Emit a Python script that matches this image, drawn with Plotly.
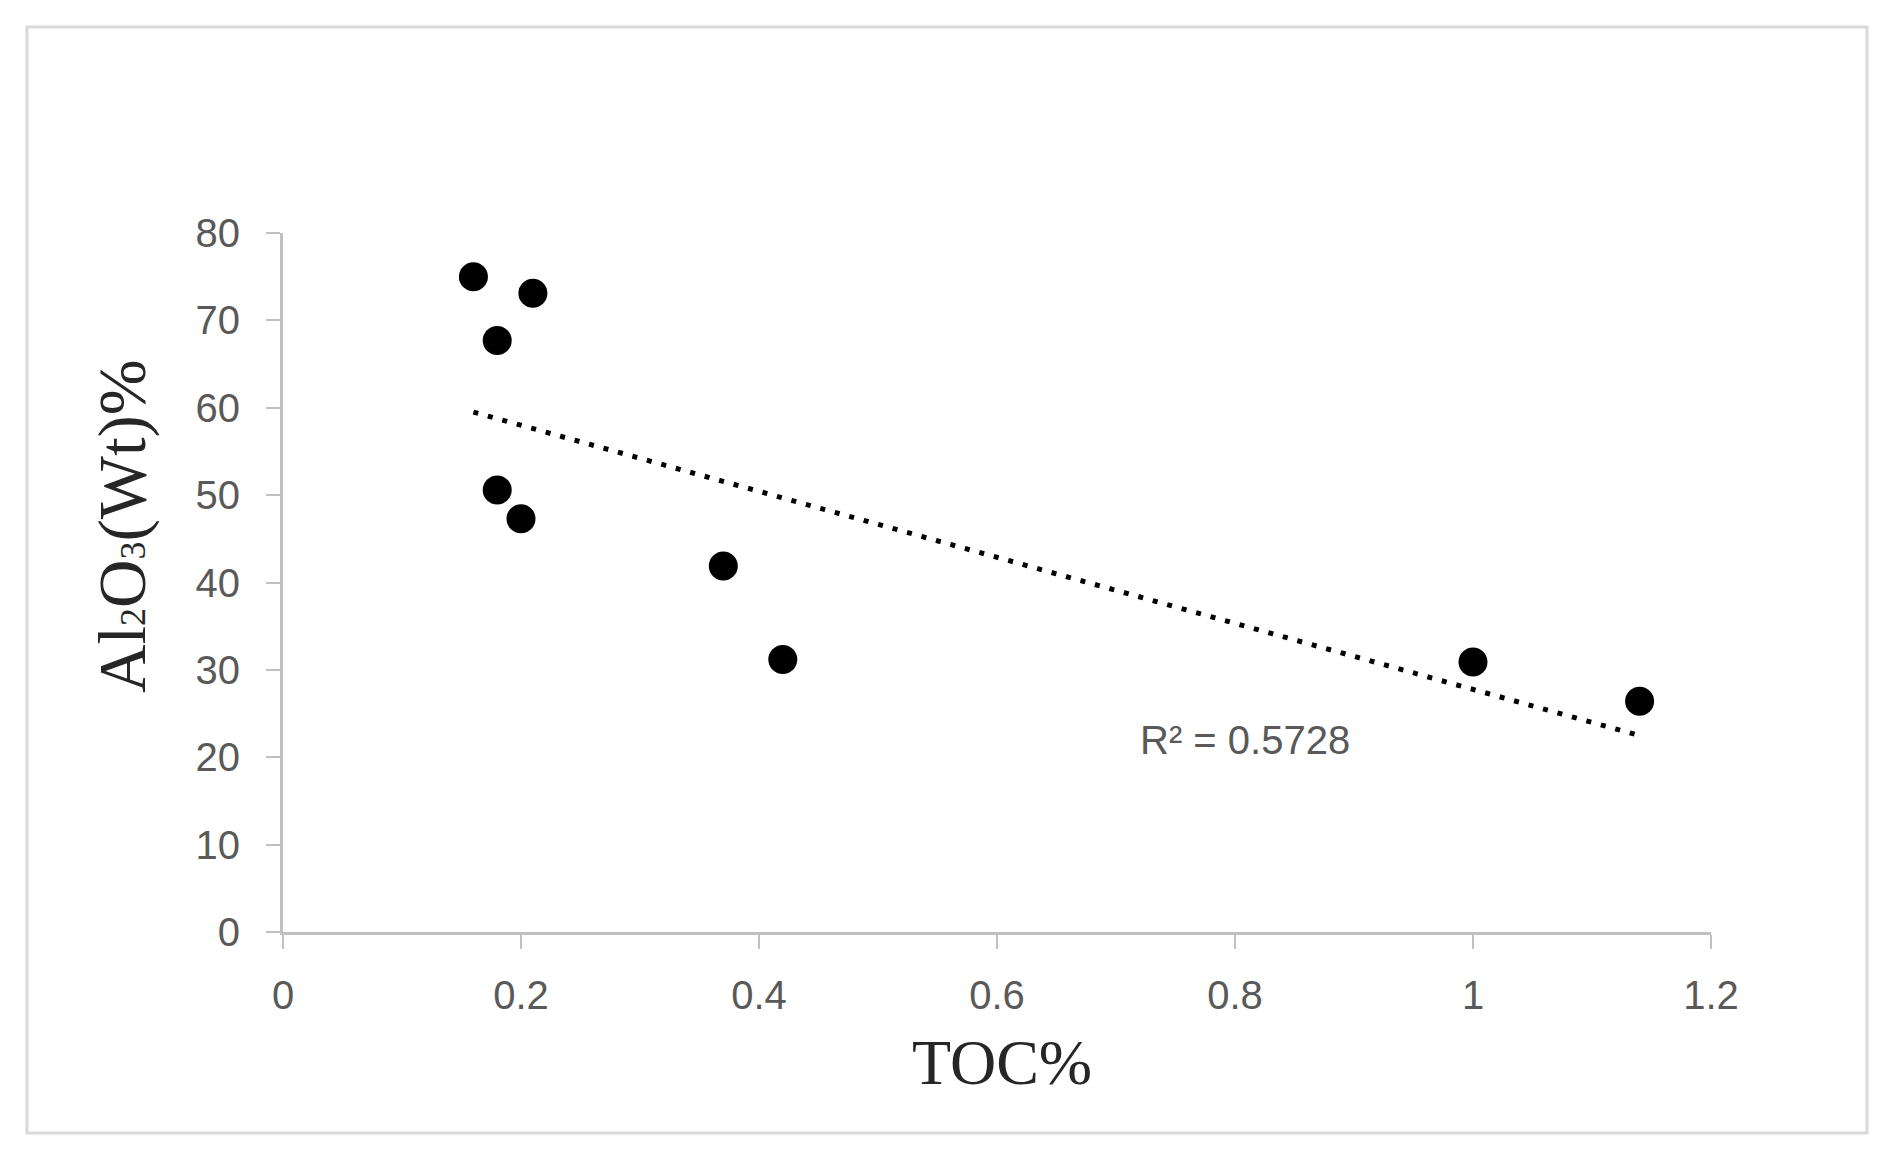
import numpy as np
import plotly.graph_objects as go

toc = [0.16, 0.21, 0.18, 0.18, 0.20, 0.37, 0.42, 1.00, 1.14]
al2o3 = [75.0, 73.1, 67.7, 50.6, 47.3, 41.9, 31.2, 30.9, 26.4]
x_ticks = [0, 0.2, 0.4, 0.6, 0.8, 1, 1.2]
y_ticks = [0, 10, 20, 30, 40, 50, 60, 70, 80]
r2_label = 'R² = 0.5728'

# linear trendline over the data range (like Excel)
slope, icept = np.polyfit(toc, al2o3, 1)
tx = [min(toc), max(toc)]
ty = [slope * v + icept for v in tx]

# page body has an 8px margin, so the figure sits 8px in from the window edge
OFF = 8
W, H = 1893 - OFF, 1162 - OFF
L, T = 283 - OFF, 233 - OFF
R, B = W - (1711 - OFF), H - (932 - OFF)
pw, ph = W - L - R, H - T - B

def px(x):
    return (x - OFF - L) / pw

def py(y):
    return (H - B - (y - OFF)) / ph

fig = go.Figure()
fig.add_trace(go.Scatter(x=tx, y=ty, mode='lines',
                         line=dict(color='black', width=5, dash='5px,10px'),
                         showlegend=False, hoverinfo='skip'))
fig.add_trace(go.Scatter(x=toc, y=al2o3, mode='markers',
                         marker=dict(color='black', size=29),
                         showlegend=False))

axis_common = dict(showgrid=False, zeroline=False, showline=True, linecolor='#c0c0c0', linewidth=3,
                   ticks='outside', ticklen=14, tickwidth=2, tickcolor='#c0c0c0',
                   tickfont=dict(family='Liberation Sans', size=40, color='#595959'))
fig.update_xaxes(range=[0, 1.2], tickvals=x_ticks, ticktext=[str(v) for v in x_ticks],
                 ticklabelstandoff=12, **axis_common)
fig.update_yaxes(range=[0, 80], tickvals=y_ticks, ticklabelstandoff=18, **axis_common)

fig.add_annotation(text='TOC%', xref='paper', yref='paper', x=px(1002), y=py(1062),
                   xanchor='center', yanchor='middle',
                   showarrow=False, font=dict(family='Liberation Serif', size=64, color='#262626'))
fig.add_annotation(text='Al<span style="font-size:36px">2</span>O<span style="font-size:36px">3</span>(Wt)%',
                   xref='paper', yref='paper', x=px(122), y=py(526), textangle=-90,
                   xanchor='center', yanchor='middle',
                   showarrow=False, font=dict(family='Liberation Serif', size=67, color='#262626'))
fig.add_annotation(text=r2_label, xref='paper', yref='paper', x=px(1138), y=py(740),
                   xanchor='left', yanchor='middle',
                   showarrow=False, font=dict(family='Liberation Sans', size=40, color='#595959'))

# outer chart border
fig.add_shape(type='rect', xref='paper', yref='paper', x0=px(27), x1=px(1867), y0=py(27), y1=py(1133),
              line=dict(color='#d9d9d9', width=3), layer='below')

fig.update_layout(width=W, height=H, margin=dict(l=L, r=R, t=T, b=B),
                  plot_bgcolor='white', paper_bgcolor='white')
fig.write_html('out.html')
